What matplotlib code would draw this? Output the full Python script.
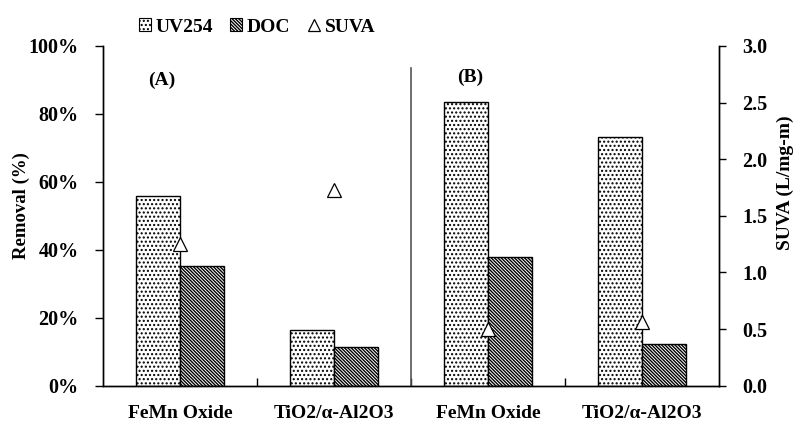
import matplotlib
matplotlib.use("Agg")
import matplotlib.pyplot as plt
from matplotlib.patches import Patch
from matplotlib.lines import Line2D
import numpy as np

plt.rcParams['font.family'] = ['Liberation Serif', 'DejaVu Serif']
plt.rcParams['font.weight'] = 'bold'
plt.rcParams['hatch.linewidth'] = 1.0

categories = ["FeMn Oxide", "TiO2/α-Al2O3", "FeMn Oxide", "TiO2/α-Al2O3"]
uv254 = [55.7, 16.4, 83.5, 73.3]
doc = [35.3, 11.4, 38.0, 12.2]
suva = [1.25, 1.73, 0.50, 0.56]
panel_labels = ["(A)", "(B)"]
y_ticks = [0, 20, 40, 60, 80, 100]
y2_ticks = [0.0, 0.5, 1.0, 1.5, 2.0, 2.5, 3.0]

HATCH_UV = '....'
HATCH_DOC = '\\' * 10

fig = plt.figure(figsize=(7.97, 4.25), dpi=100)
ax = fig.add_axes([103.5/797, 1-385.7/425, (719-103.5)/797, (385.7-45.9)/425])
ax2 = ax.twinx()

x = np.arange(len(categories))
w = 0.286
ax.bar(x - w/2, uv254, width=w, facecolor='white', edgecolor='black', hatch=HATCH_UV, linewidth=1.0)
ax.bar(x + w/2, doc, width=w, facecolor='white', edgecolor='black', hatch=HATCH_DOC, linewidth=1.0)
ax2.plot(x, suva, linestyle='none', marker='^', markersize=9.5, markerfacecolor='white',
         markeredgecolor='black', markeredgewidth=0.9, zorder=5)

ax.set_xlim(-0.5, 3.5)
ax.set_ylim(0, 100)
ax2.set_ylim(0, 3.0)
ax.set_yticks(y_ticks)
ax.set_yticklabels([f"{t}%" for t in y_ticks])
ax2.set_yticks(y2_ticks)
ax2.set_yticklabels([f"{t:.1f}" for t in y2_ticks])

ax.set_xticks(x)
ax.set_xticklabels(categories)
ax.tick_params(axis='x', which='major', length=0, pad=14, labelsize=14)
ax.set_xticks([0.5, 1.5, 2.5], minor=True)
ax.tick_params(axis='x', which='minor', direction='in', length=6, width=1)
ax.tick_params(axis='y', direction='out', length=6, width=1, labelsize=14.5, pad=12)
ax2.tick_params(axis='y', direction='out', length=5, width=1, labelsize=14.5, pad=12)

for a in (ax, ax2):
    a.spines['top'].set_visible(False)
    for s in ('left', 'right', 'bottom'):
        a.spines[s].set_linewidth(1.0)

# separator between panels
ax.axvline(1.5, ymin=0, ymax=0.936, color='#555555', linewidth=1.2)

ax.text(-0.12, 90, panel_labels[0], fontsize=14, fontweight='bold', ha='center', va='center')
ax.text(1.88, 90.6, panel_labels[1], fontsize=14, fontweight='bold', ha='center', va='center')

fig.text(21/797, 1-206/425, "Removal (%)", rotation=90, ha='center', va='center', fontsize=13.5, fontweight='bold')
fig.text(785/797, 1-183/425, "SUVA (L/mg-m)", rotation=90, ha='center', va='center', fontsize=14, fontweight='bold')

handles = [Patch(facecolor='white', edgecolor='black', hatch=HATCH_UV, linewidth=0.8),
           Patch(facecolor='white', edgecolor='black', hatch=HATCH_DOC, linewidth=0.8),
           Line2D([], [], linestyle='none', marker='^', markersize=9, markerfacecolor='white',
                  markeredgecolor='black', markeredgewidth=0.9)]
fig.legend(handles, ["UV254", "DOC", "SUVA"], loc='center', bbox_to_anchor=(257/797, 1-27/425),
           ncol=3, frameon=False, fontsize=14, handlelength=0.6, handleheight=0.6,
           handletextpad=0.25, columnspacing=0.9, borderaxespad=0, borderpad=0)

fig.savefig("out.png", dpi=100)
